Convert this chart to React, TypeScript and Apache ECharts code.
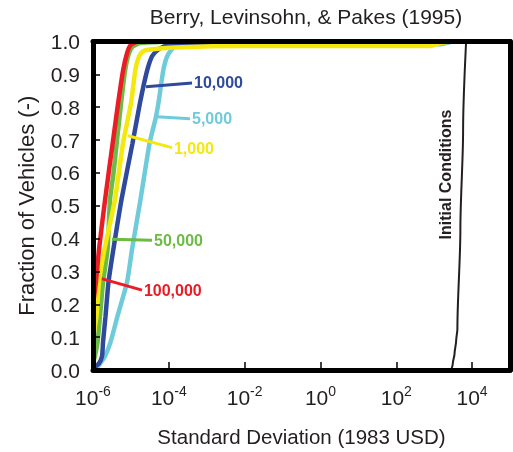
import React, { useEffect, useRef } from "react";
import * as echarts from "echarts";

// ---- data (x: standard deviation in 1983 USD, y: fraction of vehicles) ----
const xRed = [1e-6, 1.2e-6, 1.45e-6, 2.09e-6, 3.39e-6, 4.57e-6, 6.17e-6, 7.94e-6, 1.0e-5, 1.58e-5, 1e-4];
const yRed = [0.2, 0.27, 0.37, 0.52, 0.7, 0.81, 0.91, 0.965, 0.99, 1.0, 1.0];

const xGreen = [1e-6, 1.13e-6, 1.32e-6, 1.53e-6, 1.84e-6, 2.42e-6, 2.81e-6, 3.48e-6, 4.3e-6, 5.48e-6, 6.98e-6, 8.91e-6, 1.135e-5, 1.74e-5, 1e-4];
const yGreen = [0.02, 0.043, 0.085, 0.164, 0.267, 0.367, 0.519, 0.6, 0.7, 0.81, 0.91, 0.965, 0.985, 0.995, 1.0];

const xYellow = [1e-6, 1.24e-6, 1.44e-6, 1.95e-6, 3.8e-6, 6.19e-6, 1.01e-5, 1.32e-5, 1.64e-5, 2.08e-5, 2.82e-5, 1.46e-4, 1.39e-2, 780, 1430, 2630];
const yYellow = [0.1, 0.164, 0.267, 0.36, 0.519, 0.69, 0.814, 0.916, 0.955, 0.97, 0.975, 0.982, 0.986, 0.986, 0.995, 1.0];

const xNavy = [1e-6, 1.44e-6, 1.73e-6, 1.84e-6, 2.14e-6, 2.56e-6, 3.37e-6, 5.65e-6, 1.1e-5, 1.74e-5, 2.15e-5, 2.74e-5, 3.61e-5, 5.19e-5, 9.53e-5, 6.6e-4, 1000, 2000];
const yNavy = [0.005, 0.02, 0.042, 0.085, 0.164, 0.267, 0.36, 0.519, 0.69, 0.814, 0.865, 0.916, 0.955, 0.975, 0.99, 0.995, 0.995, 1.0];

const xCyan = [1e-6, 1.2e-6, 1.49e-6, 2.07e-6, 2.9e-6, 4.43e-6, 7.89e-6, 1.07e-5, 1.79e-5, 3.1e-5, 4.46e-5, 5.35e-5, 7.24e-5, 9.53e-5, 1.46e-4, 3.62e-4, 1430, 2950];
const yCyan = [0.0, 0.005, 0.018, 0.042, 0.085, 0.164, 0.267, 0.367, 0.519, 0.69, 0.765, 0.814, 0.916, 0.96, 0.985, 0.992, 0.992, 1.0];

const xInitial = [2800, 3100, 3450, 3800, 4093, 4909, 5794, 6950];
const yInitial = [0.0, 0.02, 0.05, 0.09, 0.124, 0.428, 0.731, 1.0];

// label annotations: [name, start point, end point]
const leaderNames = ["5,000", "10,000", "50,000", "1,000", "100,000"];
const leaderStart: [number, number][] = [[4.89e-5, 0.771], [2.5e-5, 0.862], [3.17e-6, 0.398], [8.38e-6, 0.713], [1.28e-6, 0.282]];
const leaderEnd: [number, number][] = [[3.62e-4, 0.765], [4.09e-4, 0.874], [3.6e-5, 0.395], [1.21e-4, 0.677], [1.96e-5, 0.243]];
const initialLabel = "Initial Conditions";
const initialLabelPos: [number, number] = [1940, 0.595];

const yTicks = [0, 0.1, 0.2, 0.3, 0.4, 0.5, 0.6, 0.7, 0.8, 0.9, 1.0];

const FONT = "'Liberation Sans', Arial, sans-serif";
const TXT = "#231f20";

const zip = (xs: number[], ys: number[]) => xs.map((x, i) => [x, ys[i]]);

export default function App() {
  const ref = useRef<HTMLDivElement>(null);
  useEffect(() => {
    if (!ref.current) return;
    const chart = echarts.init(ref.current, undefined, { renderer: "svg" });

    const colorSeries = [
      { name: "5,000", x: xCyan, y: yCyan, color: "#6ecbd9", li: 0 },
      { name: "10,000", x: xNavy, y: yNavy, color: "#2f4a9c", li: 1 },
      { name: "50,000", x: xGreen, y: yGreen, color: "#6bbb45", li: 2 },
      { name: "1,000", x: xYellow, y: yYellow, color: "#f4e80c", li: 3 },
      { name: "100,000", x: xRed, y: yRed, color: "#ec1c24", li: 4 },
    ];

    const series: any[] = [
      {
        type: "line",
        name: "Initial",
        data: zip(xInitial, yInitial),
        showSymbol: false,
        symbol: "none",
        smooth: 0.3,
        smoothMonotone: "y",
        lineStyle: { color: "#231f20", width: 2 },
        z: 1,
        markPoint: {
          silent: true,
          symbol: "circle",
          symbolSize: 0,
          data: [{ coord: initialLabelPos }],
          label: {
            show: true,
            position: "inside",
            rotate: 90,
            formatter: initialLabel,
            color: "#231f20",
            fontWeight: "bold",
            fontSize: 16,
            fontFamily: FONT,
          },
        },
      },
      ...colorSeries.map((s, k) => ({
        type: "line",
        name: s.name,
        data: zip(s.x, s.y),
        showSymbol: false,
        symbol: "none",
        smooth: 0.2,
        lineStyle: { color: s.color, width: 4.5 },
        z: 2 + k,
        markLine: {
          silent: true,
          symbol: ["none", "none"],
          animation: false,
          lineStyle: { color: s.color, width: 3, type: "solid" },
          label: {
            show: true,
            position: "end",
            formatter: leaderNames[s.li],
            color: s.color,
            fontWeight: "bold",
            fontSize: 16,
            fontFamily: FONT,
            distance: 2,
          },
          data: [[{ coord: leaderStart[s.li] }, { coord: leaderEnd[s.li] }]],
        },
      })),
    ];

    const axisLine = { show: true, onZero: false, lineStyle: { color: "#000", width: 5 } };

    chart.setOption({
      animation: false,
      textStyle: { fontFamily: FONT },
      title: {
        text: "Berry, Levinsohn, & Pakes (1995)",
        left: 301,
        top: 1,
        textAlign: "center",
        textStyle: { fontSize: 21, fontWeight: "normal", color: TXT, fontFamily: FONT },
      },
      grid: { left: 93, right: 3, top: 41.5, bottom: 81, show: false },
      xAxis: [
        {
          type: "log",
          logBase: 10,
          min: 1e-6,
          max: 1e5,
          interval: 2,
          position: "bottom",
          z: 10,
          axisLine,
          axisTick: { show: true, inside: true, length: 8, lineStyle: { color: "#000", width: 1.5 } },
          splitLine: { show: false },
          minorTick: { show: false },
          axisLabel: {
            margin: 14,
            showMaxLabel: false,
            formatter: (v: number) => {
              const e = Math.round(Math.log10(v));
              if (e % 2 !== 0) return "";
              return `{b|10}{s|${e}}`;
            },
            rich: {
              b: { fontSize: 21, color: TXT, fontFamily: FONT, lineHeight: 24, verticalAlign: "bottom" },
              s: { fontSize: 14, color: TXT, fontFamily: FONT, lineHeight: 24, verticalAlign: "top" },
            },
          },
          name: "Standard Deviation (1983 USD)",
          nameLocation: "middle",
          nameGap: 56,
          nameTextStyle: { fontSize: 20.5, color: TXT, fontFamily: FONT },
        },
        {
          type: "log",
          logBase: 10,
          min: 1e-6,
          max: 1e5,
          position: "top",
          z: 10,
          axisLine,
          axisTick: { show: false },
          axisLabel: { show: false },
          splitLine: { show: false },
        },
      ],
      yAxis: [
        {
          type: "value",
          min: 0,
          max: 1,
          interval: 0.1,
          position: "left",
          z: 10,
          axisLine,
          axisTick: { show: true, inside: true, length: 7, lineStyle: { color: "#000", width: 1.5 } },
          splitLine: { show: false },
          axisLabel: {
            margin: 13,
            fontSize: 21,
            color: TXT,
            fontFamily: FONT,
            formatter: (v: number) => (yTicks.some((t) => Math.abs(t - v) < 1e-9) ? v.toFixed(1) : ""),
          },
          name: "Fraction of Vehicles (-)",
          nameLocation: "middle",
          nameRotate: 90,
          nameGap: 56,
          nameTextStyle: { fontSize: 22, color: TXT, fontFamily: FONT },
        },
        {
          type: "value",
          min: 0,
          max: 1,
          position: "right",
          z: 10,
          axisLine,
          axisTick: { show: false },
          axisLabel: { show: false },
          splitLine: { show: false },
        },
      ],
      series,
    });
    return () => chart.dispose();
  }, []);
  return <div ref={ref} style={{ position: "fixed", left: 0, top: 0, width: 513, height: 452 }} />;
}
